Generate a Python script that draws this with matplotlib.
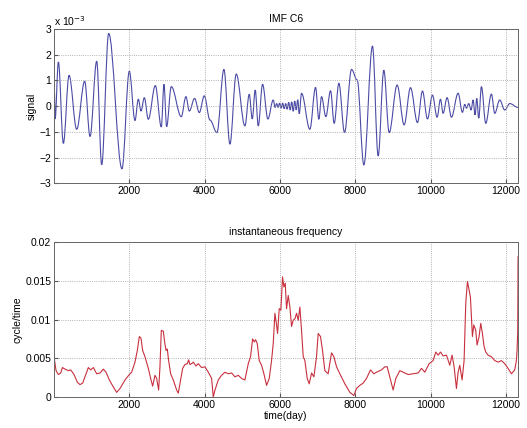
import matplotlib
matplotlib.use("Agg")
import matplotlib.pyplot as plt
from matplotlib.path import Path
from matplotlib.patches import PathPatch
import numpy as np

plt.rcParams['font.family'] = ['Liberation Sans', 'DejaVu Sans']

# IMF C6 signal: extrema (time in days, signal in units of 1e-3)
imf_time = [10, 30, 117, 249, 400, 603, 815, 957, 1134, 1266, 1452, 1805, 2000, 2150, 2239,
            2310, 2398, 2504, 2690, 2849, 2920, 2990, 3114, 3379, 3503, 3592, 3733, 3857,
            3990, 4140, 4325, 4511, 4670, 4838, 5068, 5183, 5263, 5342, 5422, 5537, 5678,
            5820, 5870, 5910, 5950, 5990, 6030, 6070, 6110, 6150, 6190, 6230, 6270, 6310,
            6350, 6390, 6430, 6470, 6510, 6571, 6792, 6943, 7031, 7102, 7217, 7341, 7438,
            7562, 7712, 7898, 8048, 8225, 8455, 8605, 8755, 8897, 9109, 9295, 9463, 9649,
            9781, 9914, 10046, 10170, 10259, 10329, 10435, 10550, 10727, 10842, 10904,
            10948, 11010, 11072, 11125, 11178, 11222, 11275, 11346, 11461, 11611, 11700,
            11832, 11965, 12100, 12318]
imf_signal_e3 = [0.6, -0.5, 1.72, -1.45, 1.2, -0.9, 0.97, -1.18, 1.75, -2.28, 2.83, -2.44, 1.36,
                 -0.56, 0.27, -0.19, 0.33, -0.51, 0.8, -0.81, 0.85, -0.8, 0.76, -0.41, 0.37,
                 -0.19, 0.3, -0.25, 0.4, -0.54, -1.03, 1.43, -1.48, 1.25, -0.77, 0.46, -0.5,
                 0.63, -0.77, 0.85, -0.5, 0.24, -0.05, 0.1, -0.05, 0.12, -0.08, 0.12, -0.1,
                 0.1, -0.12, 0.15, -0.15, 0.17, -0.2, 0.2, -0.15, 0.25, -0.3, 0.5, -0.9, 0.73,
                 -0.51, 0.37, -0.41, 0.6, -0.67, 0.89, -1.03, 1.43, 1.02, -2.29, 2.34, -1.94,
                 1.4, -1.03, 0.82, -0.73, 0.72, -0.64, 0.59, -0.5, 0.43, -0.43, 0.27, -0.28,
                 0.33, -0.43, 0.5, -0.24, 0.07, -0.08, 0.1, -0.15, 0.24, -0.34, 0.3, -0.47,
                 0.76, -0.67, 0.47, -0.28, 0.24, -0.15, 0.1, -0.05]

# instantaneous frequency (cycle/time)
freq_time = [1, 55, 117, 179, 223, 294, 382, 444, 532, 621, 691, 762, 851, 912, 974, 1045,
             1133, 1222, 1310, 1381, 1469, 1575, 1664, 1752, 1885, 2000, 2062, 2150, 2212,
             2265, 2309, 2354, 2415, 2504, 2566, 2619, 2681, 2725, 2778, 2813, 2849, 2902,
             2937, 2973, 3008, 3043, 3096, 3167, 3256, 3300, 3344, 3415, 3477, 3539, 3574,
             3609, 3653, 3698, 3768, 3830, 3919, 4007, 4096, 4184, 4228, 4273, 4361, 4449,
             4538, 4626, 4715, 4803, 4891, 4980, 5068, 5157, 5218, 5272, 5316, 5351, 5395,
             5448, 5510, 5572, 5643, 5714, 5775, 5820, 5864, 5908, 5935, 5979, 6023, 6067,
             6103, 6138, 6173, 6218, 6262, 6306, 6350, 6395, 6439, 6483, 6527, 6571, 6616,
             6660, 6722, 6775, 6837, 6899, 6969, 7013, 7075, 7128, 7190, 7278, 7367, 7429,
             7500, 7588, 7721, 7854, 7960, 8030, 8119, 8207, 8296, 8402, 8490, 8561, 8694,
             8782, 8844, 8914, 9003, 9074, 9180, 9268, 9401, 9534, 9666, 9755, 9843, 9958,
             10064, 10134, 10197, 10259, 10329, 10418, 10506, 10568, 10621, 10683, 10727,
             10771, 10833, 10886, 10930, 10975, 11019, 11054, 11107, 11143, 11195, 11231,
             11284, 11328, 11372, 11417, 11461, 11523, 11611, 11700, 11788, 11876, 11965,
             12053, 12142, 12230, 12274, 12292, 12310, 12318]
freq_value = [0.0052, 0.0034, 0.0029, 0.0031, 0.0038, 0.0036, 0.0034, 0.0035, 0.0029, 0.0019,
              0.0016, 0.0018, 0.0030, 0.0038, 0.0035, 0.0038, 0.0030, 0.0031, 0.0036, 0.0032,
              0.0022, 0.0013, 0.0006, 0.0011, 0.0022, 0.0029, 0.0032, 0.0045, 0.0060, 0.0078,
              0.0076, 0.0060, 0.0052, 0.0037, 0.0024, 0.0014, 0.0028, 0.0024, 0.0009, 0.0039,
              0.0086, 0.0085, 0.0071, 0.0060, 0.0062, 0.0047, 0.0030, 0.0022, 0.0009, 0.0005,
              0.0017, 0.0037, 0.0042, 0.0043, 0.0048, 0.0042, 0.0043, 0.0045, 0.0040, 0.0043,
              0.0038, 0.0039, 0.0032, 0.0024, 0.0000, 0.0009, 0.0022, 0.0028, 0.0032, 0.0030,
              0.0031, 0.0026, 0.0028, 0.0024, 0.0022, 0.0043, 0.0052, 0.0075, 0.0071, 0.0074,
              0.0069, 0.0047, 0.0041, 0.0030, 0.0015, 0.0024, 0.0047, 0.0069, 0.0108, 0.0093,
              0.0082, 0.0114, 0.0112, 0.0155, 0.0142, 0.0147, 0.0114, 0.0131, 0.0116, 0.0091,
              0.0099, 0.0101, 0.0108, 0.0099, 0.0116, 0.0086, 0.0052, 0.0047, 0.0024, 0.0017,
              0.0031, 0.0026, 0.0052, 0.0082, 0.0078, 0.0060, 0.0034, 0.0030, 0.0057, 0.0052,
              0.0039, 0.0030, 0.0017, 0.0006, 0.0002, 0.0011, 0.0015, 0.0018, 0.0024, 0.0035,
              0.0030, 0.0032, 0.0035, 0.0039, 0.0039, 0.0026, 0.0009, 0.0024, 0.0034, 0.0032,
              0.0029, 0.0030, 0.0031, 0.0037, 0.0032, 0.0043, 0.0047, 0.0058, 0.0054, 0.0058,
              0.0053, 0.0054, 0.0041, 0.0054, 0.0039, 0.0011, 0.0032, 0.0041, 0.0022, 0.0047,
              0.0121, 0.0149, 0.0138, 0.0129, 0.0078, 0.0093, 0.0086, 0.0067, 0.0078, 0.0095,
              0.0082, 0.0065, 0.0058, 0.0054, 0.0052, 0.0047, 0.0045, 0.0047, 0.0043, 0.0037,
              0.0030, 0.0035, 0.0047, 0.0060, 0.0084, 0.0181]

x_ticks = [2000, 4000, 6000, 8000, 10000, 12000]
sig_ticks = [-3, -2, -1, 0, 1, 2, 3]
freq_ticks = [0, 0.005, 0.01, 0.015, 0.02]
freq_tick_labels = ['0', '0.005', '0.01', '0.015', '0.02']
x_limits = (1, 12318)

fig = plt.figure(figsize=(5.27, 4.28), dpi=100)
ax1 = fig.add_axes([0.1025, 0.572, 0.8805, 0.36])
ax2 = fig.add_axes([0.1025, 0.0724, 0.8805, 0.3622])

# smooth curve through the extrema (horizontal tangent at each extremum)
k = 0.36
verts = [(imf_time[0], imf_signal_e3[0])]
codes = [Path.MOVETO]
for i in range(len(imf_time) - 1):
    x0, y0 = imf_time[i], imf_signal_e3[i]
    x1, y1 = imf_time[i + 1], imf_signal_e3[i + 1]
    d = x1 - x0
    verts += [(x0 + k * d, y0), (x1 - k * d, y1), (x1, y1)]
    codes += [Path.CURVE4] * 3
patch = PathPatch(Path(verts, codes), fill=False, edgecolor='#4b4ba6', lw=0.8)
ax1.add_patch(patch)

ax2.plot(freq_time, freq_value, color='#c8303e', lw=0.8)

fs = 7.5
for ax in (ax1, ax2):
    ax.set_xlim(*x_limits)
    ax.set_xticks(x_ticks)
    ax.grid(True, linestyle=':', color='#9a9a9a', lw=0.6)
    ax.tick_params(direction='in', length=3, labelsize=fs, color='#555555', pad=2)
    for s in ax.spines.values():
        s.set_color('#666666')
        s.set_linewidth(0.7)

ax1.set_ylim(-3, 3)
ax1.set_yticks(sig_ticks)
ax1.set_ylabel('signal', fontsize=fs, labelpad=2)
ax1.set_title('IMF C6', fontsize=fs, pad=5)
ax1.text(0.0, 1.01, r'x 10$^{-3}$', transform=ax1.transAxes, fontsize=fs,
         ha='left', va='bottom')

ax2.set_ylim(0, 0.02)
ax2.set_yticks(freq_ticks)
ax2.set_yticklabels(freq_tick_labels)
ax2.set_ylabel('cycle/time', fontsize=fs, labelpad=2)
ax2.set_xlabel('time(day)', fontsize=fs, labelpad=1)
ax2.set_title('instantaneous frequency', fontsize=fs, pad=5)

fig.savefig('out.png', dpi=100)
